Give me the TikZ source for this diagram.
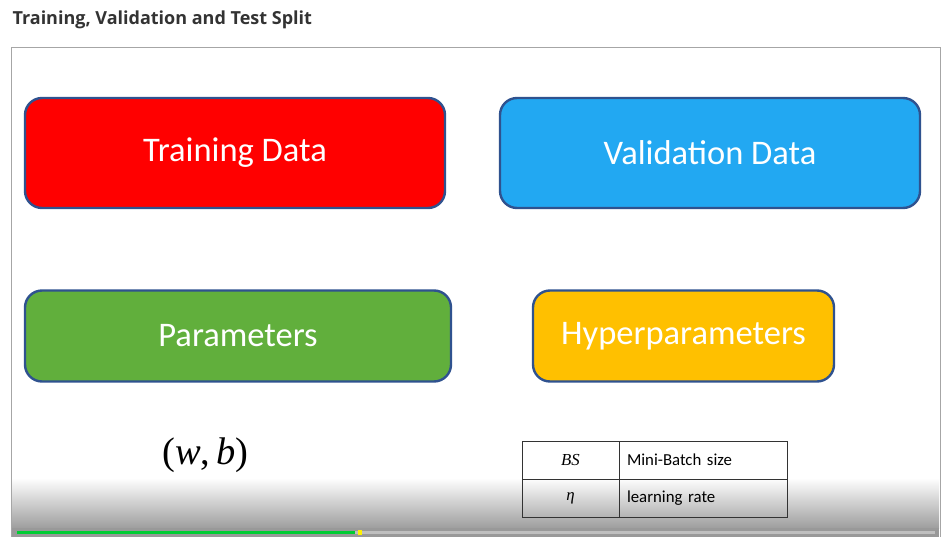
\documentclass[tikz,border=0pt]{standalone}
\usepackage{fontspec}
\setmainfont{Carlito}
\newfontfamily\titlefont{Open Sans}
\newfontfamily\symfont{Liberation Serif}
\usetikzlibrary{positioning}
\definecolor{edge}{HTML}{2F528F}
\definecolor{trainred}{HTML}{FF0000}
\definecolor{valblue}{HTML}{22A8F2}
\definecolor{paramgreen}{HTML}{61AF3C}
\definecolor{hypergold}{HTML}{FFC000}
\definecolor{heading}{HTML}{333333}
\definecolor{framegray}{HTML}{A6A6A6}

\begin{document}
\begin{tikzpicture}[x=1pt, y=-1pt,
      every node/.style={align=center},
      slidebox/.style={draw=edge, line width=2.4pt, rounded corners=17pt, text=white,
        font=\fontsize{34.5}{38}\selectfont, minimum height=110pt},
      cell/.style={draw=black!80, line width=0.8pt, minimum height=38pt, font=\fontsize{16.8}{19}\selectfont}]
    \useasboundingbox (0,0) rectangle (949,537);
    \fill[white] (0,0) rectangle (949,537);
    % heading and slide frame
    \node[anchor=west, font=\titlefont\bfseries\fontsize{18}{21}\selectfont, text=heading] (title) at (9,20) {Training, Validation and Test Split};
    \draw[framegray, line width=1pt] (11,537) -- (11,48) -- (940,48) -- (940,537);
    % video overlay at the bottom
    \shade[top color=white, bottom color=black!38] (12,478) rectangle (939,528);
    \fill[black!40] (12,528) rectangle (939,537);
    % the four boxes
    \node[slidebox, fill=trainred, minimum width=420pt] (train) at (235,153) {Training Data};
    \node[slidebox, fill=valblue, minimum width=420pt] (valid) at (710,153) {Validation Data};
    \node[slidebox, fill=paramgreen, minimum width=426pt, minimum height=91pt] (param) at (238,336) {Parameters};
    \node[slidebox, fill=hypergold, minimum width=301pt, minimum height=91pt] (hyper) at (683.5,336) {Hyperparameters};
    \node[font=\symfont\fontsize{38.5}{42}\selectfont] (wb) at (205.5,455) {(\textit{w},\,\textit{b})};
    % hyperparameter table
    \node[cell, minimum width=97pt] (bs) at (570.5,460) {\symfont\itshape BS};
    \node[cell, minimum width=168pt, right=-0.8pt of bs, text width=152pt, align=left] (bsname) {Mini-Batch size};
    \node[cell, minimum width=97pt, below=-0.8pt of bs] (eta) {\symfont\itshape η};
    \node[cell, minimum width=168pt, right=-0.8pt of eta, text width=152pt, align=left] (etaname) {learning rate};
    % progress bar
    \fill[black!25] (17,531) rectangle (935,534);
    \fill[green!60!teal] (17,531) rectangle (355,534);
    \fill[yellow] (358,530) rectangle (362,535);
  \end{tikzpicture}
\end{document}
